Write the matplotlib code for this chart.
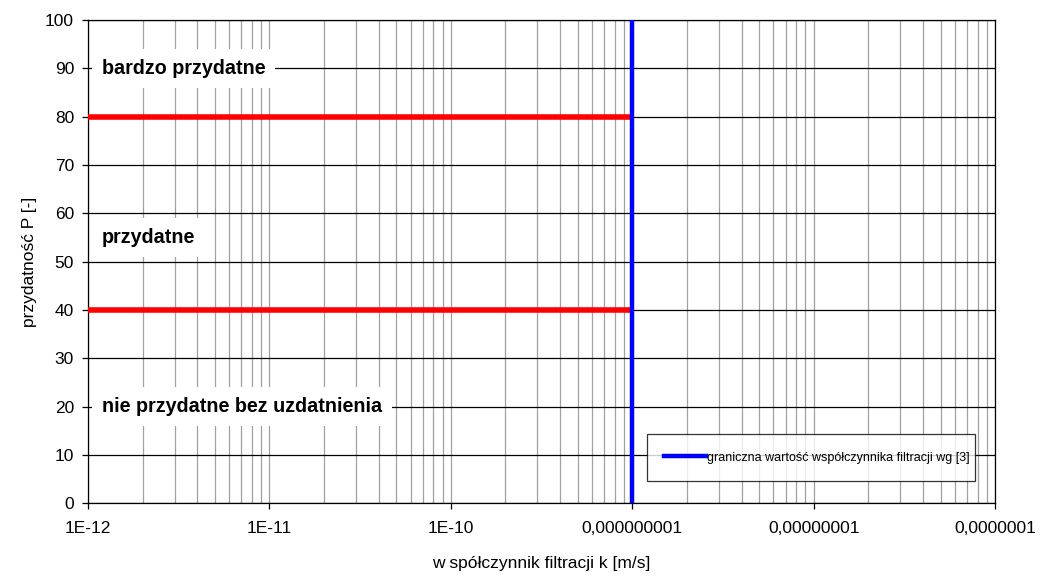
import matplotlib.pyplot as plt
from matplotlib.ticker import FixedLocator, LogLocator, FixedFormatter, NullFormatter

plt.rcParams['font.family'] = ['Liberation Sans', 'DejaVu Sans']

# progi przydatności i graniczna wartość k
k_range = [1e-12, 1e-9]
p_high = [80, 80]
p_low = [40, 40]
k_limit = [1e-9, 1e-9]
p_limit = [0, 100]

x_ticks = [1e-12, 1e-11, 1e-10, 1e-9, 1e-8, 1e-7]
x_labels = ["1E-12", "1E-11", "1E-10", "0,000000001", "0,00000001", "0,0000001"]
y_ticks = list(range(0, 101, 10))

zones = [("bardzo przydatne", 90), ("przydatne", 55), ("nie przydatne bez uzdatnienia", 20)]

fig = plt.figure(figsize=(10.41, 5.77), dpi=100)
ax = fig.add_axes([0.0845, 0.128, 0.8715, 0.837])

ax.set_xscale("log")
ax.set_xlim(1e-12, 1e-7)
ax.set_ylim(0, 100)

ax.xaxis.set_major_locator(FixedLocator(x_ticks))
ax.xaxis.set_major_formatter(FixedFormatter(x_labels))
ax.xaxis.set_minor_locator(LogLocator(base=10, subs=range(2, 10)))
ax.xaxis.set_minor_formatter(NullFormatter())
ax.set_yticks(y_ticks)

ax.grid(True, axis="x", which="both", color="#a0a0a0", lw=0.9)
ax.grid(True, axis="y", which="major", color="black", lw=0.9)
ax.set_axisbelow(True)

ax.tick_params(axis="both", which="major", direction="out", length=4, width=0.9,
               labelsize=12.5, colors="black")
ax.tick_params(axis="x", which="minor", length=0)
ax.tick_params(axis="x", pad=9)
ax.tick_params(axis="y", pad=6)
for s in ax.spines.values():
    s.set_linewidth(0.9)

ax.plot(k_range, p_high, color="#ff0000", lw=4, solid_capstyle="butt", zorder=3)
ax.plot(k_range, p_low, color="#ff0000", lw=4, solid_capstyle="butt", zorder=3)
ax.plot(k_limit, p_limit, color="#0000ff", lw=3.2, zorder=4,
        label="graniczna wartość współczynnika filtracji wg [3]")

# opisy stref na białym tle
for txt, y in zones:
    ax.text(0.0155, y, txt, transform=ax.get_yaxis_transform(), fontsize=14.2,
            fontweight="bold", va="center", ha="left", zorder=5,
            bbox=dict(facecolor="white", edgecolor="none", pad=7))

ax.set_xlabel("w spółczynnik filtracji k [m/s]", fontsize=12.5, labelpad=14)
ax.set_ylabel("przydatność P [-]", fontsize=12.5, labelpad=6)

leg = ax.legend(loc="lower left", bbox_to_anchor=(0.616, 0.0455, 0.362, 0.12),
                mode="expand", fontsize=9, frameon=True, fancybox=False,
                handlelength=3.3, handletextpad=0.1, borderaxespad=0, borderpad=1.4)
leg.get_frame().set_edgecolor("black")
leg.get_frame().set_linewidth(0.9)
leg.set_zorder(6)

fig.savefig("out.png", dpi=100)
